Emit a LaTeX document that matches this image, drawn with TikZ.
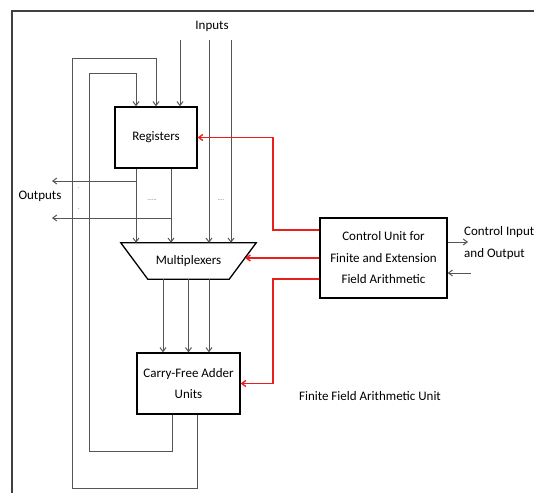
\documentclass[tikz,border=0pt]{standalone}
\usepackage{fontspec}
\setmainfont{Carlito}
\usetikzlibrary{positioning, arrows.meta}
\definecolor{ctlred}{RGB}{235,30,30}
\definecolor{wiregray}{RGB}{85,85,85}

\begin{document}
\begin{tikzpicture}[x=1pt, y=-1pt, font=\fontsize{13}{21.5}\selectfont,
    box/.style={draw=black, line width=1.3pt, rectangle, align=center, inner sep=0pt},
    wire/.style={draw=wiregray, line width=1pt},
    arr/.style={wire, -{Straight Barb[length=4pt, width=6pt]}},
    ctl/.style={draw=ctlred, line width=1.4pt, -{Straight Barb[length=4pt, width=6pt]}},
    dots/.style={font=\fontsize{6}{6}\selectfont, text=wiregray, inner sep=0pt}]
  \useasboundingbox (0,0) rectangle (534,493);

  % frame of the unit (cut at right and bottom)
  \draw[line width=1.2pt, draw=darkgray] (12,493) -- (12,11) -- (534,11);

  \node[box, minimum width=82pt, minimum height=61pt] (regs) at (156,137.5) {Registers};
  \node[inner sep=0pt, minimum width=135pt, minimum height=36pt] (mux) at (188.5,261) {Multiplexers};
  \draw[line width=1.3pt] (mux.north west) -- (mux.north east) -- ([xshift=-27pt]mux.south east)
    -- ([xshift=27pt]mux.south west) -- cycle;
  \node[box, minimum width=103pt, minimum height=61pt] (adder) at (188.5,383.5) {Carry-Free Adder\\Units};
  \node[box, minimum width=127pt, minimum height=80pt] (ctrl) at (383.5,258) {Control Unit for\\Finite and Extension\\Field Arithmetic};

  \node (inlbl) at (212,26) {Inputs};
  \node (outlbl) at (40,196) {Outputs};
  \node[align=left, anchor=west, inner sep=0pt] (iolbl) at (464,243) {Control Input\\and Output};
  \node (falbl) at (370,396) {Finite Field Arithmetic Unit};
  \node[dots] (rdots) at (152,200) {......};
  \node[dots] (idots) at (221,200) {....};
  \node[dots] (odot1) at (79,188) {.};
  \node[dots] (odot2) at (79,209) {.};

  \coordinate (in1) at (180,40);
  \coordinate (in2) at (209,40);
  \coordinate (in3) at (231,40);
  \coordinate (out1) at (52,181);
  \coordinate (out2) at (52,218);
  \coordinate (cout) at (468,242);
  \coordinate (cin) at (471,273);
  \coordinate (muxin) at ([xshift=-11pt]mux.east);

  \draw[arr] (in1) -- (in1 |- regs.north);
  \draw[arr] (in2) -- (in2 |- mux.north);
  \draw[arr] (in3) -- (in3 |- mux.north);

  \draw[arr] ([xshift=-20pt]regs.south) -- ([xshift=-20pt]regs.south |- mux.north);
  \draw[arr] ([xshift=15pt]regs.south) -- ([xshift=15pt]regs.south |- mux.north);
  \draw[arr] ([xshift=-20pt]regs.south |- out1) -- (out1);
  \draw[arr] ([xshift=15pt]regs.south |- out2) -- (out2);

  \draw[arr] ([xshift=-25.5pt]mux.south) -- ([xshift=-25.5pt]mux.south |- adder.north);
  \draw[arr] (mux.south) -- (adder.north);
  \draw[arr] ([xshift=20.5pt]mux.south) -- ([xshift=20.5pt]mux.south |- adder.north);

  % feedback from the adders
  \draw[arr] ([xshift=8.5pt]adder.south) |- (72,488) |- (156,58) -- (regs.north);
  \draw[arr] ([xshift=-16.5pt]adder.south) |- (89,451) |- (136,73) -- ([xshift=-20pt]regs.north);

  \draw[ctl] (ctrl.west |- 0,230) -- (273,230) |- (regs.east);
  \draw[ctl] (ctrl.west) -- (ctrl.west -| muxin);
  \draw[ctl] (ctrl.west |- 0,279) -- (273,279) |- (adder.east);

  \draw[arr] (ctrl.east |- cout) -- (cout);
  \draw[arr] (cin) -- (ctrl.east |- cin);
\end{tikzpicture}
\end{document}
